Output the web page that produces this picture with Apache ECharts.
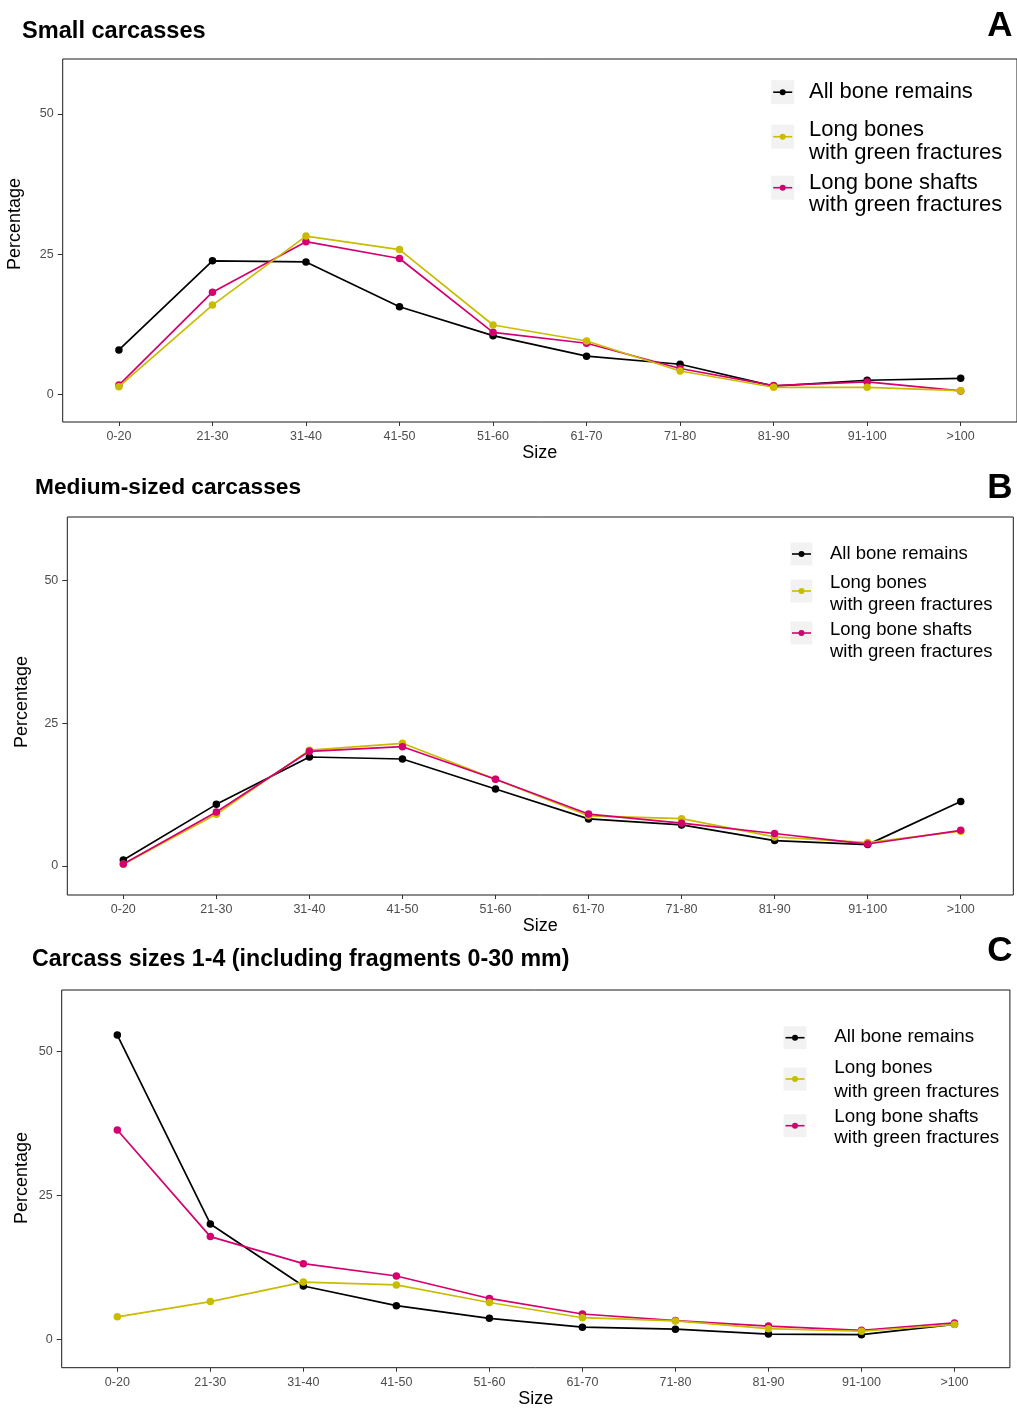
<!DOCTYPE html>
<html>
<head>
<meta charset="utf-8">
<title>Bone fragment size distributions</title>
<script src="https://cdn.jsdelivr.net/npm/echarts@6/dist/echarts.min.js"></script>
<style>
  html, body { margin: 0; padding: 0; background: #ffffff; }
  #chart { width: 1017px; height: 1416px; }
</style>
</head>
<body>
<div id="chart"></div>
<script>
// Fragment size classes (mm)
const sizes = ['0-20', '21-30', '31-40', '41-50', '51-60', '61-70', '71-80', '81-90', '91-100', '>100'];
const yTicks = [0, 25, 50];

// A: small carcasses (%)
const smallAll   = [7.9, 23.8, 23.6, 15.6, 10.45, 6.8, 5.35, 1.45, 2.5, 2.85];
const smallLong  = [1.35, 15.9, 28.2, 25.8, 12.35, 9.5, 4.15, 1.25, 1.25, 0.65];
const smallShaft = [1.65, 18.2, 27.2, 24.2, 11.05, 9.1, 4.6, 1.55, 2.2, 0.6];

// B: medium-sized carcasses (%)
const mediumAll   = [1.05, 10.8, 19.1, 18.75, 13.5, 8.25, 7.2, 4.45, 3.75, 11.3];
const mediumLong  = [0.3, 9.05, 20.3, 21.5, 15.2, 8.8, 8.3, 5.1, 4.1, 6.1];
const mediumShaft = [0.35, 9.45, 20.1, 20.9, 15.2, 9.1, 7.5, 5.7, 3.85, 6.25];

// C: carcass sizes 1-4, fragments 0-30 mm included (%)
const totalAll   = [52.9, 20.05, 9.27, 5.85, 3.65, 2.1, 1.75, 0.9, 0.8, 2.6];
const totalLong  = [3.9, 6.55, 9.95, 9.45, 6.4, 3.75, 3.2, 1.85, 1.4, 2.55];
const totalShaft = [36.4, 17.85, 13.15, 11.0, 7.1, 4.4, 3.25, 2.3, 1.55, 2.85];

const seriesNames = ['All bone remains', 'Long bones with green fractures', 'Long bone shafts with green fractures'];
const COLORS = { all: '#000000', long: '#C9BC00', shaft: '#D5006F' };
const FONT = '"Liberation Sans", Arial, Helvetica, sans-serif';

const chart = echarts.init(document.getElementById('chart'), null, { renderer: 'canvas' });

// panel frames and axis ranges
const panels = [
  { grid: { left: 62.7, top: 59, width: 955.3, height: 363 }, x: [-0.601, 9.602], y: [-4.94, 59.77] },
  { grid: { left: 67.3, top: 517, width: 946, height: 378 }, x: [-0.602, 9.565], y: [-5.08, 61.15] },
  { grid: { left: 61.7, top: 990, width: 948.2, height: 377.7 }, x: [-0.598, 9.596], y: [-4.94, 60.73] }
];

const pairs = (arr) => arr.map((v, i) => [i, v]);

function lineSeries(idx, name, values, color, z) {
  return {
    type: 'line',
    name: name,
    xAxisIndex: idx,
    yAxisIndex: idx,
    data: pairs(values),
    symbol: 'circle',
    symbolSize: 7.5,
    z: z,
    lineStyle: { color: color, width: 1.7 },
    itemStyle: { color: color },
    emphasis: { disabled: true },
    animation: false
  };
}

const grids = panels.map(p => Object.assign({ show: true, borderColor: '#1a1a1a', borderWidth: 1, backgroundColor: '#ffffff', containLabel: false }, p.grid));

const xAxes = panels.map((p, i) => ({
  type: 'value',
  gridIndex: i,
  position: 'bottom',
  min: p.x[0],
  max: p.x[1],
  axisLine: { show: false, onZero: false },
  splitLine: { show: false },
  axisTick: { show: true, length: 4, customValues: sizes.map((_, k) => k), lineStyle: { color: '#333333', width: 1 } },
  axisLabel: {
    customValues: sizes.map((_, k) => k),
    formatter: (v) => sizes[Math.round(v)],
    color: '#4d4d4d', fontFamily: FONT, fontSize: 12.5, margin: 8
  },
  name: 'Size',
  nameLocation: 'middle',
  nameGap: 22,
  nameTextStyle: { color: '#000000', fontFamily: FONT, fontSize: 18 }
}));

const yAxes = panels.map((p, i) => ({
  type: 'value',
  gridIndex: i,
  position: 'left',
  min: p.y[0],
  max: p.y[1],
  axisLine: { show: false, onZero: false },
  splitLine: { show: false },
  axisTick: { show: true, length: 5, customValues: yTicks, lineStyle: { color: '#333333', width: 1 } },
  axisLabel: {
    customValues: yTicks,
    formatter: (v) => String(Math.round(v)),
    color: '#4d4d4d', fontFamily: FONT, fontSize: 12.5, margin: 9
  }
}));

const series = [
  // A: yellow drawn on top
  lineSeries(0, seriesNames[0], smallAll, COLORS.all, 2),
  lineSeries(0, seriesNames[2], smallShaft, COLORS.shaft, 3),
  lineSeries(0, seriesNames[1], smallLong, COLORS.long, 4),
  // B: magenta drawn on top
  lineSeries(1, seriesNames[0], mediumAll, COLORS.all, 2),
  lineSeries(1, seriesNames[1], mediumLong, COLORS.long, 3),
  lineSeries(1, seriesNames[2], mediumShaft, COLORS.shaft, 4),
  // C: yellow drawn on top
  lineSeries(2, seriesNames[0], totalAll, COLORS.all, 2),
  lineSeries(2, seriesNames[2], totalShaft, COLORS.shaft, 3),
  lineSeries(2, seriesNames[1], totalLong, COLORS.long, 4)
];

// ---- text and legend artwork ----
const graphics = [];

function text(str, x, y, size, opts) {
  opts = opts || {};
  graphics.push({
    type: 'text',
    x: x, y: y,
    rotation: opts.rotation || 0,
    z: 100,
    style: {
      text: str,
      x: 0, y: 0,
      font: (opts.bold ? 'bold ' : '') + size + 'px ' + FONT,
      fill: opts.color || '#000000',
      textAlign: opts.align || 'left',
      textVerticalAlign: 'middle'
    }
  });
}

function legendKey(cx, cy, w, h, color) {
  graphics.push({ type: 'rect', z: 100, shape: { x: cx - w / 2, y: cy - h / 2, width: w, height: h }, style: { fill: '#F2F2F2' } });
  graphics.push({ type: 'line', z: 101, shape: { x1: cx - 9.5, y1: cy, x2: cx + 9.5, y2: cy }, style: { stroke: color, lineWidth: 1.6 } });
  graphics.push({ type: 'circle', z: 102, shape: { cx: cx, cy: cy, r: 3 }, style: { fill: color } });
}

function legend(cfg) {
  const colors = [COLORS.all, COLORS.long, COLORS.shaft];
  const lines = [['All bone remains'], ['Long bones', 'with green fractures'], ['Long bone shafts', 'with green fractures']];
  cfg.keys.forEach((ky, i) => legendKey(cfg.kx, ky, cfg.kw, cfg.kh, colors[i]));
  cfg.rows.forEach((rowYs, i) => rowYs.forEach((ty, j) => text(lines[i][j], cfg.tx, ty, cfg.size)));
}

// Panel A
text('Small carcasses', 22, 31, 23.6, { bold: true });
text('A', 1000, 26, 35, { bold: true, align: 'center' });
text('Percentage', 15, 224, 18, { rotation: Math.PI / 2, align: 'center' });
legend({ kx: 782.7, kw: 23, kh: 24, keys: [92.2, 136.7, 187.7], tx: 809, size: 22,
         rows: [[91.7], [130, 153.3], [182.7, 205]] });

// Panel B
text('Medium-sized carcasses', 35, 488, 22.7, { bold: true });
text('B', 1000, 488, 35, { bold: true, align: 'center' });
text('Percentage', 22, 702, 18, { rotation: Math.PI / 2, align: 'center' });
legend({ kx: 801.5, kw: 22, kh: 23, keys: [554, 591, 633], tx: 830, size: 18.5,
         rows: [[554], [583, 605], [630, 652]] });

// Panel C
text('Carcass sizes 1-4 (including fragments 0-30 mm)', 32, 960, 23.2, { bold: true });
text('C', 1000, 951, 35, { bold: true, align: 'center' });
text('Percentage', 22, 1178, 18, { rotation: Math.PI / 2, align: 'center' });
legend({ kx: 795, kw: 23, kh: 23, keys: [1037.7, 1079, 1125.7], tx: 834.3, size: 18.8,
         rows: [[1037.3], [1068.3, 1091.7], [1116.7, 1138.3]] });

chart.setOption({
  backgroundColor: '#ffffff',
  animation: false,
  textStyle: { fontFamily: FONT },
  grid: grids,
  xAxis: xAxes,
  yAxis: yAxes,
  series: series,
  graphic: graphics
});
</script>
</body>
</html>
